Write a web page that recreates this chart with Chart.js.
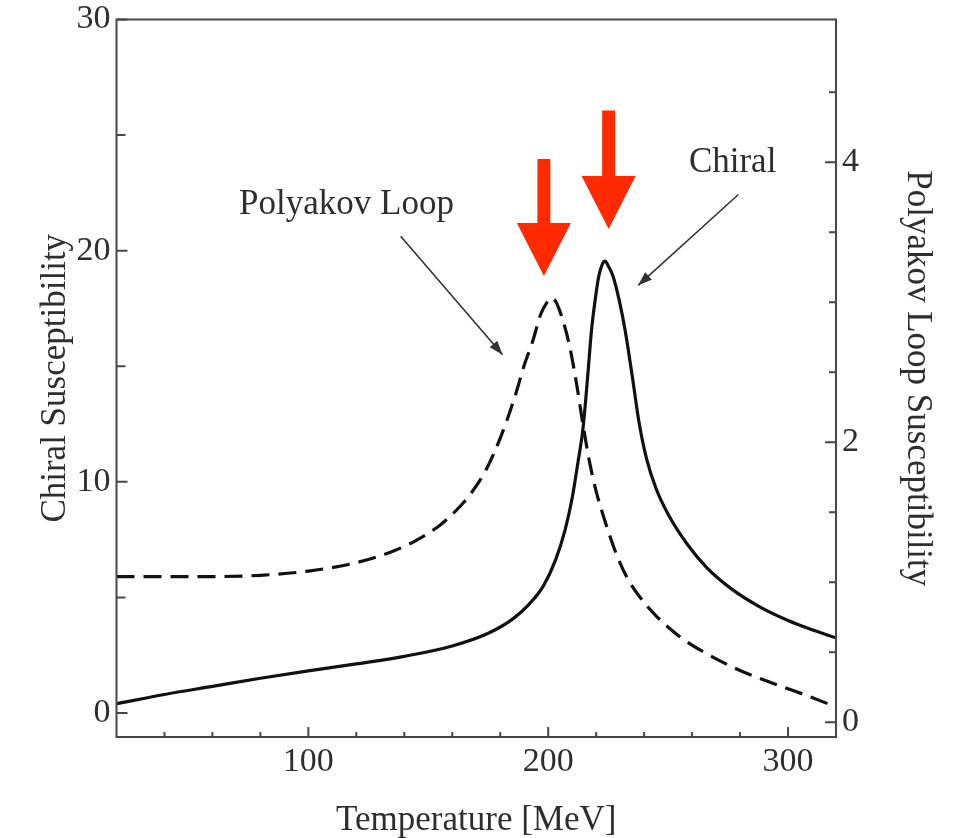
<!DOCTYPE html>
<html>
<head>
<meta charset="utf-8">
<title>Chiral and Polyakov loop susceptibility</title>
<script src="https://cdn.jsdelivr.net/npm/chart.js@4.4.1/dist/chart.umd.min.js"></script>
<style>
  html, body { margin: 0; padding: 0; background: #fff; }
  #wrap { width: 953px; height: 838px; }
</style>
</head>
<body>
<div id="wrap"><canvas id="susChart"></canvas></div>
<script>
// Chiral susceptibility (solid, left axis)
const chiralT = [20, 40, 60, 80, 100, 120, 140, 160, 175, 185, 192, 198, 203, 207, 210, 212.5, 214.5, 216.5, 218, 219.5, 221, 222.5, 223.7, 225, 227, 229.5, 232, 235, 238, 241, 245, 250, 258, 266, 276, 288, 300, 310, 320];
const chiralChi = [0.40, 0.80, 1.15, 1.50, 1.82, 2.12, 2.45, 2.90, 3.45, 4.05, 4.7, 5.5, 6.6, 7.9, 9.3, 10.9, 12.3, 14.6, 16.5, 17.8, 18.85, 19.4, 19.55, 19.35, 18.9, 17.9, 16.6, 14.6, 12.5, 11.0, 9.7, 8.6, 7.3, 6.3, 5.4, 4.6, 4.0, 3.6, 3.25];

// Polyakov loop susceptibility (dashed, right axis)
const loopT = [20, 50, 80, 100, 120, 135, 145, 155, 162, 168, 174, 180, 186, 190, 193.5, 197, 199.5, 201, 203, 205, 207, 209, 212, 214, 217, 220, 224, 228, 233, 238, 245, 255, 265, 280, 295, 308, 320];
const loopChi = [1.04, 1.04, 1.05, 1.08, 1.14, 1.22, 1.30, 1.41, 1.52, 1.64, 1.80, 2.03, 2.32, 2.55, 2.72, 2.92, 3.0, 3.03, 3.01, 2.93, 2.82, 2.68, 2.40, 2.18, 1.88, 1.65, 1.42, 1.22, 1.03, 0.90, 0.76, 0.61, 0.50, 0.37, 0.27, 0.19, 0.11];

// tick labels
const tempTicks = [100, 200, 300];
const chiTicks = [0, 10, 20, 30];
const loopTicks = [0, 2, 4];
const tempMinor = [40, 60, 80, 120, 140, 160, 180, 220, 240, 260, 280];
const chiMinor = [5, 15, 25];
const loopMinor = [0.5, 1, 1.5, 2.5, 3, 3.5, 4.5];

const serif = '"Liberation Serif", "DejaVu Serif", serif';
const inkColor = '#2e2e2e';
const tickFont = { family: serif, size: 34, lineHeight: 1.1 };
const titleFont = { family: serif, size: 35, lineHeight: 1.0 };

function fixedTicks(values) {
    return function(scale) {
        scale.ticks = values.map(v => ({ value: v }));
    };
}

// fixed box size, no extra room for overhanging labels
function boxWidth(w) {
    return function(scale) {
        scale.width = w;
        scale.paddingTop = 0;
        scale.paddingBottom = 0;
    };
}

function drawPointer(ctx, x1, y1, x2, y2) {
    ctx.beginPath();
    ctx.moveTo(x1, y1);
    ctx.lineTo(x2, y2);
    ctx.stroke();
    const ang = Math.atan2(y2 - y1, x2 - x1);
    const len = 14, half = 5;
    const bx = x2 - len * Math.cos(ang), by = y2 - len * Math.sin(ang);
    ctx.beginPath();
    ctx.moveTo(x2, y2);
    ctx.lineTo(bx + half * Math.sin(ang), by - half * Math.cos(ang));
    ctx.lineTo(bx - half * Math.sin(ang), by + half * Math.cos(ang));
    ctx.closePath();
    ctx.fill();
}

function drawBlockArrow(ctx, x, yTop, yTip) {
    const shaftHalf = 6.5, headHalf = 27, headLen = 53;
    const yHead = yTip - headLen;
    ctx.beginPath();
    ctx.moveTo(x - shaftHalf, yTop);
    ctx.lineTo(x + shaftHalf, yTop);
    ctx.lineTo(x + shaftHalf, yHead);
    ctx.lineTo(x + headHalf, yHead);
    ctx.lineTo(x, yTip);
    ctx.lineTo(x - headHalf, yHead);
    ctx.lineTo(x - shaftHalf, yHead);
    ctx.closePath();
    ctx.fill();
}

// frame, inward ticks, labels and arrows
const figureExtras = {
    id: 'figureExtras',
    afterDraw(chart) {
        const { ctx, chartArea: a } = chart;
        const { x, y, y2 } = chart.scales;
        ctx.save();

        ctx.strokeStyle = '#474747';
        ctx.lineWidth = 2;
        ctx.strokeRect(a.left, a.top, a.right - a.left, a.bottom - a.top);

        ctx.beginPath();
        tempTicks.forEach(v => { const p = x.getPixelForValue(v); ctx.moveTo(p, a.bottom); ctx.lineTo(p, a.bottom - 10); });
        tempMinor.forEach(v => { const p = x.getPixelForValue(v); ctx.moveTo(p, a.bottom); ctx.lineTo(p, a.bottom - 5); });
        chiTicks.forEach(v => { const p = y.getPixelForValue(v); ctx.moveTo(a.left, p); ctx.lineTo(a.left + 11, p); });
        chiMinor.forEach(v => { const p = y.getPixelForValue(v); ctx.moveTo(a.left, p); ctx.lineTo(a.left + 9, p); });
        loopTicks.forEach(v => { const p = y2.getPixelForValue(v); ctx.moveTo(a.right, p); ctx.lineTo(a.right - 11, p); });
        loopMinor.forEach(v => { const p = y2.getPixelForValue(v); ctx.moveTo(a.right, p); ctx.lineTo(a.right - 7, p); });
        ctx.stroke();

        // curve labels
        ctx.fillStyle = inkColor;
        ctx.font = '35px ' + serif;
        ctx.textAlign = 'center';
        ctx.textBaseline = 'middle';
        ctx.fillText('Polyakov Loop', x.getPixelForValue(115.9), y.getPixelForValue(22.0));
        ctx.fillText('Chiral', x.getPixelForValue(276.9), y.getPixelForValue(23.8));

        ctx.strokeStyle = '#333';
        ctx.fillStyle = '#333';
        ctx.lineWidth = 1.6;
        drawPointer(ctx, x.getPixelForValue(138.5), y.getPixelForValue(20.62), x.getPixelForValue(181.0), y.getPixelForValue(15.5));
        drawPointer(ctx, x.getPixelForValue(279.3), y.getPixelForValue(22.43), x.getPixelForValue(237.5), y.getPixelForValue(18.5));

        // red peak markers
        ctx.fillStyle = '#ff2a00';
        drawBlockArrow(ctx, x.getPixelForValue(198.2), y.getPixelForValue(23.97), y.getPixelForValue(18.9));
        drawBlockArrow(ctx, x.getPixelForValue(225.2), y.getPixelForValue(26.06), y.getPixelForValue(20.94));

        ctx.restore();
    }
};

const ctx = document.getElementById('susChart').getContext('2d');
new Chart(ctx, {
    type: 'line',
    data: {
        datasets: [
            {
                label: 'Chiral',
                data: chiralT.map((t, i) => ({ x: t, y: chiralChi[i] })),
                yAxisID: 'y',
                borderColor: '#111',
                borderWidth: 3.2,
                pointRadius: 0,
                fill: false,
                cubicInterpolationMode: 'monotone'
            },
            {
                label: 'Polyakov Loop',
                data: loopT.map((t, i) => ({ x: t, y: loopChi[i] })),
                yAxisID: 'y2',
                borderColor: '#111',
                borderWidth: 3.2,
                borderDash: [18, 9],
                pointRadius: 0,
                fill: false,
                cubicInterpolationMode: 'monotone'
            }
        ]
    },
    options: {
        responsive: true,
        maintainAspectRatio: false,
        animation: false,
        devicePixelRatio: 1,
        layout: { padding: { top: 19.5 } },
        plugins: {
            legend: { display: false },
            tooltip: { enabled: false }
        },
        scales: {
            x: {
                type: 'linear',
                min: 20,
                max: 320,
                afterBuildTicks: fixedTicks(tempTicks),
                afterFit: s => { s.height = 101; s.paddingLeft = 0; s.paddingRight = 0; },
                grid: { display: false, drawTicks: false },
                border: { display: false },
                ticks: { font: tickFont, color: inkColor, padding: 6, maxRotation: 0 },
                title: { display: true, text: 'Temperature [MeV]', font: titleFont, color: inkColor, padding: { top: 0, bottom: 0 } }
            },
            y: {
                position: 'left',
                min: -1.04,
                max: 30,
                afterBuildTicks: fixedTicks(chiTicks),
                afterFit: boxWidth(116.5),
                grid: { display: false, drawTicks: false },
                border: { display: false },
                ticks: { font: tickFont, color: inkColor, padding: 6 },
                title: { display: true, text: 'Chiral Susceptibility', font: titleFont, color: inkColor, padding: { top: 38, bottom: 0 } }
            },
            y2: {
                position: 'right',
                min: -0.105,
                max: 5.02,
                afterBuildTicks: fixedTicks(loopTicks),
                afterFit: boxWidth(117),
                grid: { display: false, drawTicks: false },
                border: { display: false },
                ticks: { font: tickFont, color: inkColor, padding: 6 },
                title: { display: true, text: 'Polyakov Loop Susceptibility', font: titleFont, color: inkColor, padding: { top: 18, bottom: 0 } }
            }
        }
    },
    plugins: [figureExtras]
});
</script>
</body>
</html>
